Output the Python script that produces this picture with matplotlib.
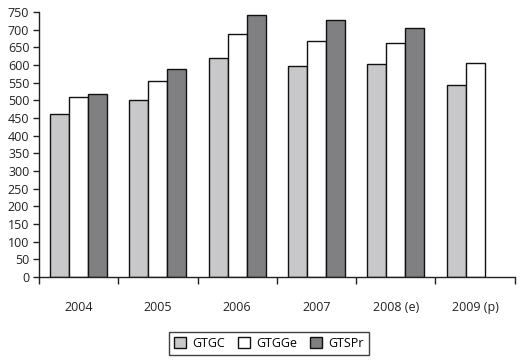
import numpy as np
import matplotlib.pyplot as plt

years = ['2004', '2005', '2006', '2007', '2008 (e)', '2009 (p)']
gtgc = [460, 501, 619, 597, 602, 543]
gtgge = [509, 555, 688, 668, 662, 605]
gtspr = [517, 588, 742, 727, 704, None]

plt.rcParams['font.family'] = ['Open Sans', 'DejaVu Sans']

fig = plt.figure(figsize=(5.2, 3.62), dpi=100)
ax = fig.add_axes([0.075, 0.235, 0.915, 0.732])

x = np.arange(len(years))
w = 0.24
ax.bar(x - w, gtgc, w, color='#c8c8ca', edgecolor='#111111', linewidth=1, label='GTGC')
ax.bar(x, gtgge, w, color='white', edgecolor='#111111', linewidth=1, label='GTGGe')
xd = [xi + w for xi, v in zip(x, gtspr) if v is not None]
vd = [v for v in gtspr if v is not None]
ax.bar(xd, vd, w, color='#808083', edgecolor='#111111', linewidth=1, label='GTSPr')

ax.set_xlim(-0.5, len(years) - 0.5)
ax.set_ylim(0, 750)
ax.set_yticks(np.arange(0, 751, 50))
ax.set_xticks(x)
ax.set_xticklabels(years)
ax.set_xticks(np.arange(-0.5, len(years), 1), minor=True)
ax.tick_params(axis='x', which='major', length=0, pad=17, labelsize=9, colors='#222222')
ax.tick_params(axis='x', which='minor', length=5, width=1, color='#222222')
ax.tick_params(axis='y', length=4, width=1, labelsize=9, pad=3, color='#222222', labelcolor='#222222')

for s in ['top', 'right']:
    ax.spines[s].set_visible(False)
for s in ['left', 'bottom']:
    ax.spines[s].set_linewidth(1)
    ax.spines[s].set_color('#222222')

leg = fig.legend(loc='center', bbox_to_anchor=(0.517, 0.052), ncol=3, fontsize=9,
                 frameon=True, fancybox=False, edgecolor='#111111',
                 handlelength=1.0, handleheight=1.0, handletextpad=0.5,
                 columnspacing=1.0, borderpad=0.4)
leg.get_frame().set_linewidth(1)

fig.savefig('out.png', dpi=100)
